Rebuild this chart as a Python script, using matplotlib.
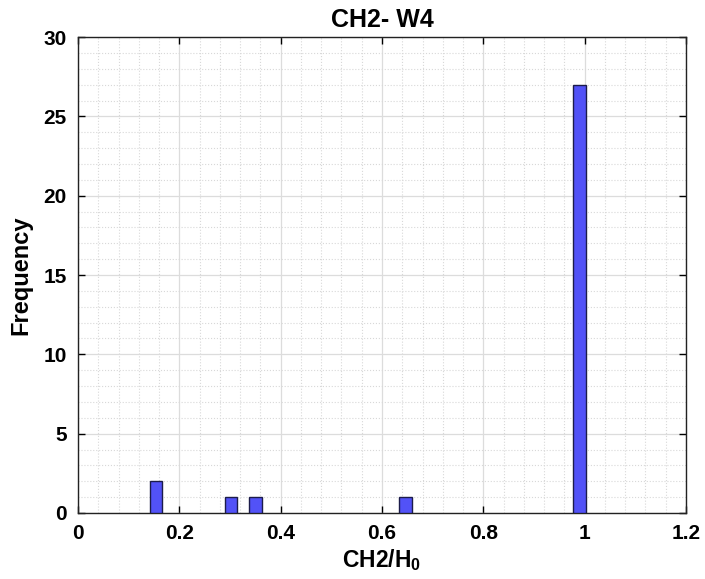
import matplotlib
matplotlib.use("Agg")
import matplotlib.pyplot as plt
from matplotlib.ticker import MultipleLocator

# Histogram bins (centres) and counts
bin_centers = [0.154, 0.302, 0.350, 0.646, 0.990]
counts = [2, 1, 1, 1, 27]
bin_width = 0.025

x_ticks = [0, 0.2, 0.4, 0.6, 0.8, 1.0, 1.2]
x_tick_labels = ["0", "0.2", "0.4", "0.6", "0.8", "1", "1.2"]

plt.rcParams["font.family"] = ["Liberation Sans", "DejaVu Sans"]
plt.rcParams["font.weight"] = "bold"
plt.rcParams["mathtext.fontset"] = "custom"
plt.rcParams["mathtext.bf"] = "Liberation Sans:bold"
plt.rcParams["mathtext.rm"] = "Liberation Sans:bold"

fig = plt.figure(figsize=(7.05, 5.79), dpi=100)
ax = fig.add_axes([0.1106, 0.114, 0.8624, 0.822])

ax.bar(bin_centers, counts, width=bin_width,
       facecolor="#5252f7", edgecolor="#1c1c4a", linewidth=1.0, zorder=3)

ax.set_xlim(0, 1.2)
ax.set_ylim(0, 30)
ax.set_xticks(x_ticks)
ax.set_xticklabels(x_tick_labels)
ax.xaxis.set_minor_locator(MultipleLocator(0.04))
ax.yaxis.set_major_locator(MultipleLocator(5))
ax.yaxis.set_minor_locator(MultipleLocator(1))

# MATLAB-like grid: light solid major, dotted minor
ax.grid(which="major", color="#dcdcdc", linestyle="-", linewidth=0.9, zorder=0)
ax.grid(which="minor", color="#d8d8d8", linestyle=":", linewidth=0.8, zorder=0)
ax.set_axisbelow(True)

ax.tick_params(which="both", direction="in", top=True, right=True)
ax.tick_params(which="major", length=5, width=1.0, labelsize=15, pad=8)
ax.tick_params(which="minor", length=0)
for sp in ax.spines.values():
    sp.set_linewidth(1.0)
    sp.set_color("#222222")

ax.set_title("CH2- W4", fontsize=18, fontweight="bold", pad=7)
ax.set_xlabel("CH2/H$_{\\mathbf{0}}$", fontsize=16.5, fontweight="bold", labelpad=3)
ax.set_ylabel("Frequency", fontsize=17, fontweight="bold", labelpad=8)

fig.savefig("out.png", dpi=100)
